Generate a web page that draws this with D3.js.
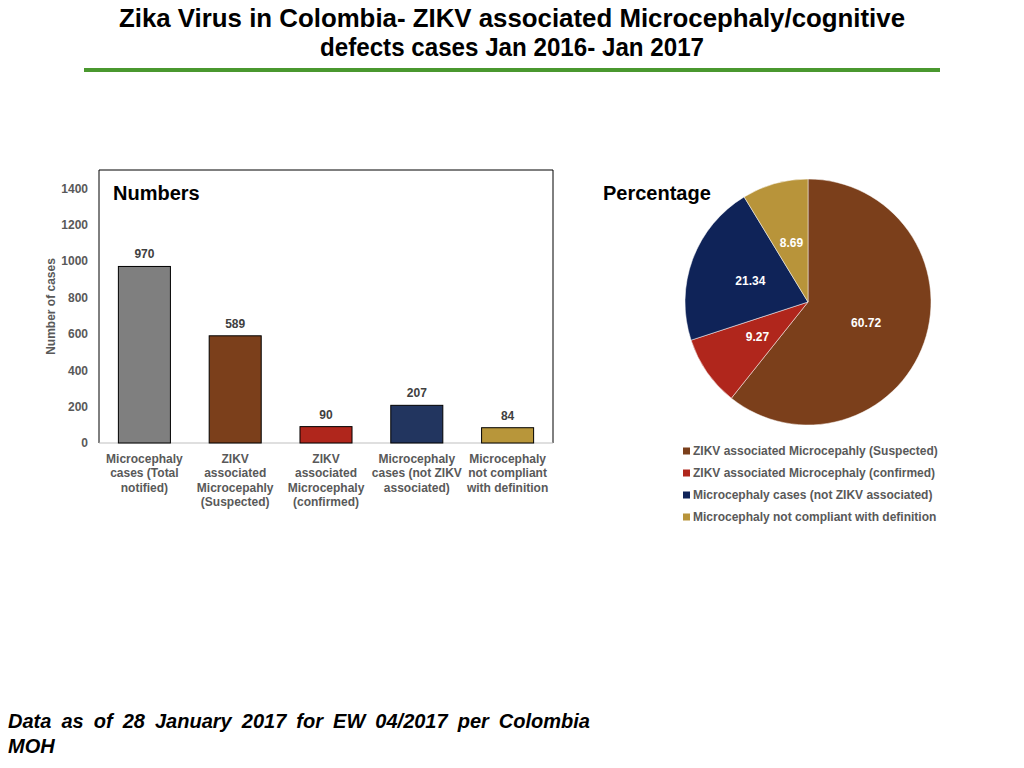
<!DOCTYPE html>
<html>
<head>
<meta charset="utf-8">
<script src="https://cdn.jsdelivr.net/npm/d3@7"></script>
<style>
  body { margin: 0; background: #fff; }
  text { font-family: "Liberation Sans", Arial, sans-serif; }
</style>
</head>
<body>
<div id="chart"></div>
<script>
// bar chart data
const barCategories = [
  ["Microcephaly", "cases (Total", "notified)"],
  ["ZIKV", "associated", "Microcepahly", "(Suspected)"],
  ["ZIKV", "associated", "Microcephaly", "(confirmed)"],
  ["Microcephaly", "cases (not ZIKV", "associated)"],
  ["Microcephaly", "not compliant", "with definition"]
];
const barValues = [970, 589, 90, 207, 84];
const barColors = ["#7f7f7f", "#7b3f1b", "#b0261c", "#22355f", "#b8963a"];
const yTicks = [0, 200, 400, 600, 800, 1000, 1200, 1400];

// pie data
const pieLabels = [
  "ZIKV associated Microcepahly (Suspected)",
  "ZIKV associated Microcephaly (confirmed)",
  "Microcephaly cases (not ZIKV associated)",
  "Microcephaly not compliant with definition"
];
const pieValues = [60.72, 9.27, 21.34, 8.69];
const pieColors = ["#7b3f1b", "#b0261c", "#0f2358", "#b8943a"];

const width = 1024, height = 768;
const svg = d3.select("#chart").append("svg")
    .attr("width", width)
    .attr("height", height)
    .attr("viewBox", [0, 0, width, height]);

// title (condensed look squeezed to the reference width)
const title = svg.append("g")
    .attr("font-weight", "bold")
    .attr("text-anchor", "middle")
    .attr("font-size", 25)
    .attr("fill", "#000");
title.append("text")
    .attr("x", 512).attr("y", 27)
    .attr("textLength", 786)
    .attr("lengthAdjust", "spacingAndGlyphs")
    .text("Zika Virus in Colombia- ZIKV associated Microcephaly/cognitive");
title.append("text")
    .attr("x", 512).attr("y", 56)
    .attr("textLength", 384)
    .attr("lengthAdjust", "spacingAndGlyphs")
    .text("defects cases Jan 2016- Jan 2017");

svg.append("line")
    .attr("x1", 84).attr("x2", 940)
    .attr("y1", 70).attr("y2", 70)
    .attr("stroke", "#4a982f")
    .attr("stroke-width", 4);

// ---- bar chart ----
const bx0 = 99, bx1 = 553, by0 = 170, by1 = 443;
const xScale = d3.scaleBand(d3.range(barValues.length), [bx0, bx1])
    .paddingInner(0.427)
    .paddingOuter(0.2135);
const yScale = d3.scaleLinear([0, 1500], [by1, by0]);

const yAxis = d3.axisLeft(yScale).tickValues(yTicks).tickFormat(d3.format("d"))
    .tickSize(0).tickPadding(11);
svg.append("g")
    .attr("transform", `translate(${bx0},0)`)
    .call(yAxis)
    .call(g => g.select(".domain").remove())
    .call(g => g.selectAll("text")
        .attr("font-size", 12)
        .attr("font-weight", "bold")
        .attr("fill", "#595959"));

// plot frame (left, top, right in black; bottom axis gray)
svg.append("path")
    .attr("d", `M${bx0},${by1}V${by0}H${bx1}V${by1}`)
    .attr("fill", "none")
    .attr("stroke", "#000")
    .attr("stroke-width", 1);
svg.append("line")
    .attr("x1", bx0).attr("x2", bx1)
    .attr("y1", by1).attr("y2", by1)
    .attr("stroke", "#bfbfbf")
    .attr("stroke-width", 1);

svg.append("text")
    .attr("transform", `translate(55,${(by0 + by1) / 2}) rotate(-90)`)
    .attr("text-anchor", "middle")
    .attr("font-size", 12)
    .attr("font-weight", "bold")
    .attr("fill", "#595959")
    .text("Number of cases");

svg.append("text")
    .attr("x", 113).attr("y", 200)
    .attr("font-size", 20)
    .attr("font-weight", "bold")
    .text("Numbers");

svg.append("g")
    .attr("stroke", "#000")
    .attr("stroke-width", 1)
  .selectAll("rect")
  .data(barValues)
  .join("rect")
    .attr("x", (d, i) => xScale(i))
    .attr("y", d => yScale(d))
    .attr("width", xScale.bandwidth())
    .attr("height", d => yScale(0) - yScale(d))
    .attr("fill", (d, i) => barColors[i]);

svg.append("g")
    .attr("text-anchor", "middle")
    .attr("font-size", 12)
    .attr("font-weight", "bold")
    .attr("fill", "#404040")
  .selectAll("text")
  .data(barValues)
  .join("text")
    .attr("x", (d, i) => xScale(i) + xScale.bandwidth() / 2)
    .attr("y", d => yScale(d) - 8)
    .text(d => d);

svg.append("g")
    .attr("text-anchor", "middle")
    .attr("font-size", 12)
    .attr("font-weight", "bold")
    .attr("fill", "#595959")
  .selectAll("text")
  .data(barCategories)
  .join("text")
    .attr("x", (d, i) => xScale(i) + xScale.bandwidth() / 2)
    .attr("y", 463)
    .each(function(lines) {
      const x = d3.select(this).attr("x");
      d3.select(this).selectAll("tspan")
        .data(lines)
        .join("tspan")
          .attr("x", x)
          .attr("dy", (l, j) => j === 0 ? 0 : 14.3)
          .text(l => l);
    });

// ---- pie chart ----
const cx = 808, cy = 302, R = 123;
svg.append("text")
    .attr("x", 603).attr("y", 200)
    .attr("font-size", 20)
    .attr("font-weight", "bold")
    .text("Percentage");

const pie = d3.pie().sort(null).value(d => d);
const arc = d3.arc().innerRadius(0).outerRadius(R);
const arcs = pie(pieValues);

const pg = svg.append("g").attr("transform", `translate(${cx},${cy})`);
pg.selectAll("path")
  .data(arcs)
  .join("path")
    .attr("d", arc)
    .attr("fill", (d, i) => pieColors[i])
    .attr("stroke", "#fff")
    .attr("stroke-width", 0.5);

pg.selectAll("text")
  .data(arcs)
  .join("text")
    .attr("transform", d => `translate(${arc.centroid(d)})`)
    .attr("text-anchor", "middle")
    .attr("dy", "0.35em")
    .attr("font-size", 12)
    .attr("font-weight", "bold")
    .attr("fill", "#fff")
    .text(d => d.data.toFixed(2));

const legend = svg.append("g")
  .selectAll("g")
  .data(pieLabels)
  .join("g")
    .attr("transform", (d, i) => `translate(683,${451 + i * 22})`);
legend.append("rect")
    .attr("x", 0).attr("y", -3.5)
    .attr("width", 7).attr("height", 7)
    .attr("fill", (d, i) => pieColors[i]);
legend.append("text")
    .attr("x", 10)
    .attr("dy", "0.35em")
    .attr("font-size", 12)
    .attr("font-weight", "bold")
    .attr("fill", "#595959")
    .text(d => d);

// ---- footer (justified line: spread the words) ----
const foot = svg.append("g")
    .attr("font-size", 20)
    .attr("font-weight", "bold")
    .attr("font-style", "italic")
    .attr("fill", "#000");
const footLine = "Data as of 28 January 2017 for EW 04/2017 per Colombia";
const f1 = foot.append("text")
    .attr("x", 8).attr("y", 728)
    .text(footLine);
const natural = f1.node().getComputedTextLength();
const gaps = footLine.split(" ").length - 1;
f1.attr("word-spacing", Math.max(0, (582 - natural) / gaps));
foot.append("text")
    .attr("x", 8).attr("y", 753)
    .text("MOH");
</script>
</body>
</html>
